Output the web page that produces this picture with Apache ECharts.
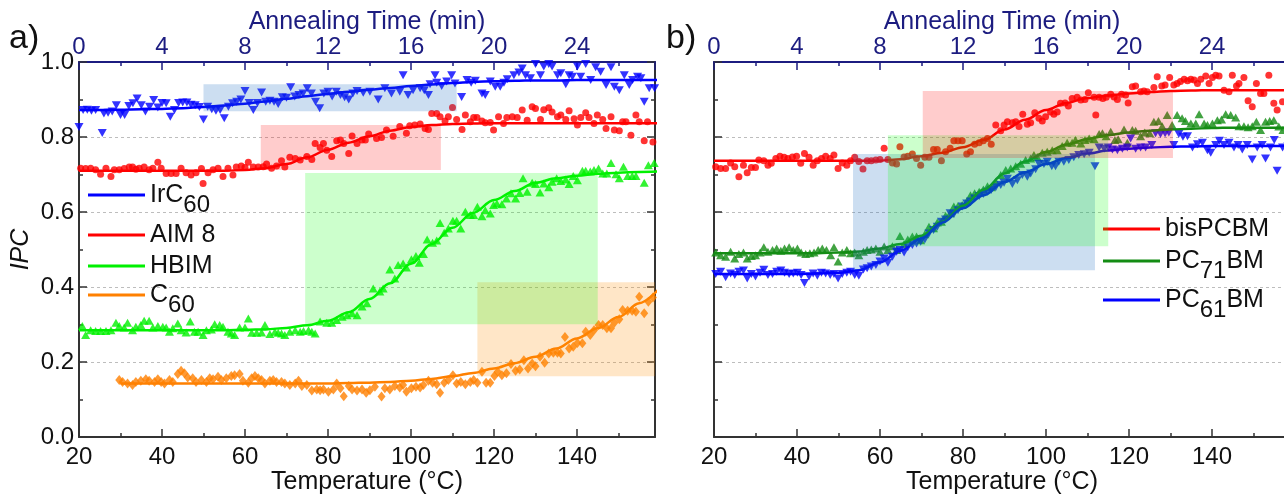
<!DOCTYPE html>
<html>
<head>
<meta charset="utf-8">
<script src="https://cdn.jsdelivr.net/npm/echarts@6/dist/echarts.min.js"></script>
<style>
html,body{margin:0;padding:0;background:#fff;}
#chart{width:1284px;height:496px;}
</style>
</head>
<body>
<div id="chart"></div>
<script>
// ---------- axes ----------
const RAMP = 5;                       // heating ramp, °C per minute
const TEMP_MIN = 20, TEMP_MAX = 158.8;
const tempTicks = [20, 40, 60, 80, 100, 120, 140];
const timeTicks = [0, 4, 8, 12, 16, 20, 24];
const ipcTicks = [0.0, 0.2, 0.4, 0.6, 0.8, 1.0];

// ---------- panel a: measured IPC (temperature °C, IPC) ----------
const irc60Pts = [[20,0.827],[21,0.872],[22,0.873],[23,0.870],[24,0.872],[25.6,0.811],[26,0.863],[27,0.865],[28,0.868],[29,0.885],[30,0.859],[31,0.859],[32,0.883],[33,0.890],[34,0.903],[35,0.885],[36,0.868],[37,0.881],[38,0.899],[39,0.879],[40,0.891],[41,0.890],[42,0.854],[43,0.872],[44,0.891],[45,0.892],[46,0.892],[47,0.886],[48,0.885],[49,0.880],[50,0.847],[51,0.881],[52,0.874],[53,0.870],[54,0.872],[55,0.850],[56,0.881],[57,0.890],[58,0.894],[59,0.900],[60,0.923],[61,0.891],[62,0.872],[63,0.891],[64,0.919],[65,0.894],[66,0.897],[67,0.894],[68,0.888],[69,0.906],[70,0.905],[71,0.933],[72,0.908],[73,0.912],[74,0.916],[75,0.930],[76,0.916],[77,0.894],[78,0.877],[79,0.916],[80,0.921],[81,0.908],[82,0.921],[83,0.912],[84,0.906],[85,0.900],[86,0.916],[87,0.923],[88.5,0.918],
  [90.1,0.921],[92.1,0.900],[93.7,0.930],[95.3,0.916],[97.3,0.921],[98.1,0.965],[99.3,0.912],[100.5,0.925],[102.2,0.930],[103.2,0.925],[104.2,0.912],[104.6,0.941],[105.8,0.965],[106.2,0.945],[107.4,0.936],[108.6,0.948],[109.8,0.965],[110.6,0.943],[112.2,0.907],[113.5,0.952],[114.5,0.945],[115.5,0.950],[117.1,0.916],[117.9,0.912],[119.1,0.948],[120.3,0.934],[121.5,0.934],[122.4,0.945],[123.2,0.954],[124.8,0.965],[126.0,0.972],[126.8,0.983],[127.6,0.965],[128.8,0.957],[130.0,0.995],[131.2,0.965],[132.0,0.988],[133.2,0.995],[134.0,0.988],[135.3,0.965],[136.1,0.970],[137.3,0.941],[138.1,0.965],[138.9,0.961],[140.1,0.988],[140.9,0.961],[142.1,0.995],[143.3,0.952],[144.5,0.986],[145.7,0.974],[147.0,0.939],[148.2,0.986],[149.0,0.934],[150.2,0.925],[151.4,0.965],[152.6,0.939],[153.4,0.952],[154.6,0.961],[155.4,0.957],[156.2,0.894],[157.4,0.930],[158.7,0.930]];

const aim8Pts = [[20.4,0.717],[21.6,0.716],[22.8,0.717],[24.0,0.713],[25.2,0.701],[26.5,0.717],[27.7,0.695],[28.5,0.713],[29.7,0.713],[30.9,0.716],[32.1,0.720],[32.9,0.720],[33.7,0.714],[34.5,0.717],[35.7,0.720],[36.9,0.713],[37.8,0.717],[39.0,0.733],[39.8,0.717],[41.0,0.703],[42.2,0.703],[43.4,0.703],[44.6,0.717],[45.8,0.705],[47.0,0.699],[48.2,0.705],[49.5,0.716],[49.9,0.676],[51.1,0.705],[52.3,0.713],[53.5,0.717],[54.7,0.695],[55.9,0.717],[57.1,0.699],[57.9,0.720],[59.1,0.723],[60.0,0.719],[60.8,0.733],[62.0,0.720],[63.2,0.720],[64.4,0.721],[65.2,0.728],[66.4,0.717],[67.6,0.723],[68.8,0.737],[69.6,0.720],[70.8,0.746],[72.1,0.743],[73.3,0.739],[74.9,0.748],[76.1,0.740],[76.9,0.783],[78.1,0.772],[78.9,0.783],[79.7,0.765],[80.9,0.748],[82.1,0.790],[83.0,0.792],[83.8,0.783],[85.0,0.756],[85.8,0.803],[87.0,0.783],[88.2,0.792],[89.0,0.792],[89.8,0.808],
  [91.7,0.796],[92.9,0.799],[94.1,0.819],[95.7,0.802],[97.3,0.828],[98.9,0.810],[99.7,0.830],[100.9,0.832],[102.2,0.835],[103.4,0.823],[104.2,0.820],[105.0,0.863],[106.2,0.863],[107.0,0.854],[108.2,0.843],[109.0,0.854],[110.0,0.879],[111.0,0.847],[112.3,0.820],[113.1,0.859],[114.3,0.841],[115.1,0.852],[115.9,0.852],[117.1,0.843],[117.9,0.838],[119.1,0.839],[119.9,0.819],[121.1,0.854],[122.3,0.836],[123.1,0.852],[124.4,0.854],[125.6,0.852],[126.8,0.872],[128.0,0.845],[129.2,0.881],[130.0,0.876],[131.2,0.847],[132.0,0.873],[133.2,0.878],[134.0,0.867],[135.3,0.854],[136.1,0.859],[137.3,0.847],[138.1,0.870],[139.3,0.849],[140.1,0.832],[140.9,0.852],[142.1,0.865],[142.9,0.852],[144.1,0.836],[144.9,0.859],[146.2,0.847],[147.0,0.823],[148.2,0.854],[149.0,0.819],[150.2,0.817],[151.0,0.841],[151.8,0.841],[153.0,0.805],[154.2,0.859],[155.0,0.841],[156.2,0.790],[157.0,0.841],[158.3,0.787]];

const hbimPts = [[20.8,0.296],[21.6,0.272],[22.8,0.285],[24.0,0.283],[25.2,0.283],[26.5,0.283],[27.7,0.285],[28.9,0.305],[29.7,0.296],[30.9,0.292],[31.7,0.305],[32.9,0.285],[33.7,0.294],[34.9,0.299],[35.7,0.310],[36.9,0.310],[37.8,0.292],[39.0,0.296],[40.2,0.294],[41.0,0.292],[41.8,0.281],[42.6,0.290],[43.8,0.303],[44.6,0.285],[45.8,0.279],[46.8,0.308],[47.8,0.281],[48.7,0.281],[49.9,0.272],[50.7,0.285],[51.9,0.287],[52.7,0.301],[53.9,0.299],[54.7,0.294],[55.9,0.281],[56.7,0.276],[57.5,0.272],[58.7,0.292],[60.0,0.292],[60.8,0.316],[61.6,0.278],[62.8,0.278],[64.0,0.279],[64.8,0.299],[66.0,0.275],[67.2,0.281],[68.0,0.278],[68.8,0.276],[69.6,0.272],[70.8,0.281],[72.1,0.285],[73.3,0.281],[74.1,0.283],[75.3,0.285],[76.1,0.281],[76.9,0.276],[78.1,0.308],[79.7,0.305],[80.9,0.305],[82.1,0.312],[83.4,0.321],[84.6,0.325],[85.8,0.330],[87.0,0.325],[88.2,0.348],[89.4,0.357],
  [90.9,0.396],[92.5,0.388],[93.3,0.396],[94.9,0.447],[96.1,0.423],[96.9,0.459],[98.1,0.463],[98.9,0.452],[100.1,0.474],[101.2,0.483],[102.0,0.465],[103.0,0.488],[103.9,0.527],[105.2,0.518],[106.2,0.524],[107.0,0.571],[108.0,0.545],[109.0,0.556],[110.1,0.577],[111.0,0.577],[112.0,0.556],[113.1,0.601],[114.3,0.592],[115.1,0.592],[116.0,0.614],[117.1,0.589],[117.9,0.605],[119.1,0.596],[119.9,0.619],[120.7,0.623],[121.9,0.621],[123.0,0.636],[124.1,0.650],[125.2,0.636],[126.2,0.651],[127.0,0.690],[128.0,0.654],[129.2,0.678],[130.0,0.675],[131.1,0.652],[132.0,0.676],[133.2,0.666],[134.0,0.681],[135.1,0.690],[136.1,0.683],[137.3,0.687],[138.1,0.675],[139.1,0.696],[140.1,0.685],[141.3,0.710],[142.1,0.710],[143.2,0.708],[144.1,0.712],[145.2,0.716],[146.2,0.703],[147.2,0.703],[148.2,0.731],[149.4,0.701],[150.2,0.690],[151.2,0.721],[152.2,0.696],[153.3,0.696],[154.2,0.696],[156.2,0.678],[157.2,0.725],[158.6,0.731]];

const c60Pts = [[29.7,0.152],[30.5,0.147],[31.7,0.143],[32.9,0.139],[33.7,0.147],[34.9,0.150],[36.1,0.154],[36.9,0.150],[38.2,0.147],[39.0,0.154],[39.8,0.147],[40.6,0.143],[41.8,0.152],[42.6,0.147],[43.8,0.168],[44.6,0.177],[45.4,0.170],[46.2,0.159],[47.4,0.157],[48.2,0.147],[49.5,0.152],[50.7,0.147],[51.5,0.157],[52.3,0.154],[53.5,0.161],[54.3,0.152],[55.5,0.157],[56.7,0.163],[57.5,0.165],[58.7,0.168],[59.5,0.150],[60.8,0.145],[61.6,0.157],[62.4,0.163],[63.2,0.157],[64.0,0.152],[64.8,0.143],[66.0,0.150],[66.8,0.152],[67.6,0.147],[68.8,0.147],[69.6,0.143],[70.8,0.139],[72.1,0.143],[72.9,0.150],[73.7,0.136],[74.9,0.139],[76.1,0.124],[77.3,0.127],[78.1,0.125],[78.9,0.127],[80.1,0.121],[81.3,0.127],[82.1,0.143],[83.0,0.130],[83.8,0.109],[85.0,0.136],[85.8,0.127],[87.0,0.124],[88.2,0.127],[89.2,0.118],
  [90.1,0.125],[91.3,0.134],[92.9,0.108],[93.7,0.130],[94.9,0.127],[96.1,0.136],[97.3,0.132],[98.1,0.139],[98.9,0.121],[100.1,0.130],[101.2,0.134],[102.2,0.132],[103.0,0.139],[104.2,0.150],[105.2,0.145],[106.2,0.141],[107.0,0.118],[108.0,0.145],[109.0,0.152],[110.1,0.165],[111.0,0.143],[112.0,0.147],[113.1,0.141],[114.3,0.147],[115.1,0.152],[116.0,0.145],[117.1,0.174],[118.1,0.145],[119.1,0.145],[120.1,0.163],[120.9,0.174],[121.9,0.165],[123.0,0.170],[124.1,0.195],[125.2,0.177],[126.2,0.180],[127.2,0.205],[128.2,0.183],[129.2,0.196],[130.0,0.189],[131.1,0.214],[132.2,0.198],[133.2,0.223],[134.3,0.225],[135.3,0.225],[136.1,0.223],[137.1,0.267],[138.1,0.236],[139.1,0.241],[140.1,0.251],[141.3,0.250],[142.1,0.281],[143.2,0.272],[144.1,0.285],[145.2,0.299],[146.2,0.299],[147.2,0.290],[148.2,0.290],[149.0,0.305],[150.2,0.314],[151.0,0.339],[152.2,0.337],[153.3,0.337],[154.2,0.334],[155.0,0.374],[156.2,0.330],[157.2,0.361],[158.3,0.372]];

// ---------- panel b: measured IPC ----------
const bisPts = [[20.4,0.721],[21.6,0.716],[22.8,0.716],[24.0,0.731],[25.0,0.721],[26.0,0.694],[27.1,0.725],[28.0,0.705],[29.0,0.719],[30.0,0.719],[30.8,0.739],[32.0,0.737],[33.0,0.725],[33.8,0.730],[34.9,0.743],[35.9,0.749],[36.9,0.746],[37.8,0.743],[38.9,0.747],[39.9,0.749],[40.9,0.730],[41.8,0.756],[42.9,0.746],[43.9,0.725],[44.9,0.737],[45.9,0.743],[46.9,0.749],[48.0,0.743],[48.9,0.752],[49.9,0.716],[50.9,0.731],[52.0,0.725],[52.9,0.737],[53.9,0.746],[54.9,0.735],[55.9,0.715],[56.9,0.737],[57.9,0.737],[59.0,0.739],[60.0,0.740],[61.0,0.770],[61.9,0.740],[63.0,0.731],[64.0,0.728],[64.8,0.774],[65.8,0.747],[66.7,0.749],[67.8,0.755],[68.8,0.743],[69.8,0.725],[70.8,0.746],[71.8,0.746],[72.9,0.767],[73.8,0.767],[74.8,0.737],[75.8,0.761],[76.9,0.770],[77.8,0.790],[78.8,0.790],[79.8,0.790],[80.9,0.755],[81.8,0.761],[82.8,0.781],[83.9,0.785],[84.9,0.790],[85.9,0.796],[86.8,0.781],[87.9,0.832],
  [89.1,0.817],[89.9,0.832],[90.7,0.841],[91.9,0.838],[92.7,0.841],[93.5,0.828],[94.4,0.861],[95.5,0.834],[96.3,0.838],[97.3,0.865],[98.3,0.850],[99.1,0.843],[99.9,0.854],[101.1,0.867],[101.9,0.861],[102.7,0.867],[103.5,0.890],[104.6,0.891],[105.4,0.883],[106.3,0.903],[107.5,0.906],[108.4,0.899],[109.4,0.900],[110.2,0.918],[111.6,0.906],[112.0,0.859],[112.8,0.906],[113.7,0.903],[114.5,0.906],[115.6,0.914],[116.4,0.907],[117.2,0.900],[118.2,0.914],[119.2,0.912],[119.8,0.891],[120.8,0.934],[121.6,0.936],[122.8,0.921],[123.6,0.923],[124.4,0.921],[126.0,0.932],[126.8,0.961],[127.9,0.936],[128.7,0.939],[129.8,0.959],[130.8,0.939],[131.6,0.943],[132.4,0.948],[133.3,0.954],[134.1,0.950],[134.9,0.954],[135.7,0.952],[136.5,0.943],[137.3,0.954],[138.5,0.963],[139.3,0.943],[140.1,0.959],[140.9,0.965],[141.7,0.963],[142.9,0.925],[144.1,0.921],[144.9,0.965],[145.9,0.936],[146.5,0.943],[147.7,0.959],[148.7,0.897],[149.7,0.881],[150.7,0.943],[151.7,0.916],[152.5,0.916],[153.7,0.965],[154.9,0.890],[155.7,0.872],[157.0,0.894],[158.2,0.928]];

const pc71Pts = [[20.4,0.492],[21.6,0.485],[22.8,0.481],[24.0,0.494],[25.0,0.476],[26.0,0.488],[27.1,0.492],[28.0,0.476],[29.0,0.483],[30.0,0.485],[31.1,0.492],[32.0,0.506],[33.0,0.494],[34.1,0.499],[35.1,0.503],[36.1,0.497],[37.0,0.503],[38.1,0.506],[39.1,0.499],[40.1,0.503],[41.0,0.492],[42.1,0.488],[43.1,0.490],[44.1,0.492],[45.1,0.499],[46.1,0.503],[47.1,0.499],[48.1,0.485],[48.9,0.506],[49.9,0.468],[50.9,0.492],[52.0,0.499],[52.9,0.490],[53.9,0.492],[54.9,0.485],[56.0,0.494],[56.9,0.499],[57.9,0.500],[59.0,0.503],[60.0,0.494],[61.0,0.508],[61.9,0.499],[63.0,0.509],[64.0,0.499],[64.8,0.536],[65.8,0.515],[66.7,0.527],[67.8,0.535],[68.8,0.535],[69.8,0.525],[70.8,0.541],[71.8,0.561],[72.9,0.557],[73.8,0.572],[74.8,0.574],[75.8,0.590],[76.9,0.597],[77.8,0.615],[78.8,0.616],[79.8,0.619],[80.9,0.628],[81.8,0.645],[82.8,0.650],[83.9,0.654],[84.9,0.660],[85.9,0.669],[86.8,0.666],[87.9,0.681],
  [89.1,0.699],[90.3,0.712],[91.5,0.716],[92.7,0.722],[93.9,0.729],[95.1,0.739],[96.3,0.743],[97.1,0.752],[97.9,0.747],[99.1,0.758],[100.3,0.761],[101.5,0.765],[102.7,0.765],[103.9,0.776],[105.1,0.785],[106.3,0.785],[107.1,0.792],[108.4,0.783],[109.4,0.792],[110.4,0.796],[111.6,0.794],[112.8,0.808],[113.6,0.810],[114.5,0.802],[115.6,0.814],[116.6,0.792],[117.4,0.794],[118.8,0.820],[119.6,0.785],[120.8,0.819],[121.6,0.817],[122.8,0.802],[123.8,0.812],[125.0,0.810],[126.0,0.841],[127.1,0.843],[128.0,0.829],[129.2,0.859],[130.4,0.832],[131.6,0.859],[132.8,0.850],[133.6,0.843],[134.9,0.836],[136.1,0.836],[136.9,0.861],[138.1,0.836],[138.9,0.832],[140.1,0.836],[141.3,0.845],[142.3,0.847],[143.3,0.861],[144.5,0.859],[145.7,0.852],[146.5,0.829],[147.7,0.829],[148.7,0.826],[149.7,0.829],[150.7,0.841],[151.7,0.819],[152.9,0.841],[153.9,0.843],[154.9,0.845],[156.1,0.828],[157.1,0.819],[158.3,0.830]];

const pc61Pts = [[20.4,0.435],[21.6,0.441],[22.8,0.426],[24.0,0.436],[25.0,0.432],[26.0,0.441],[27.1,0.444],[28.0,0.423],[29.0,0.435],[30.0,0.428],[31.1,0.438],[32.0,0.446],[33.0,0.432],[34.1,0.435],[35.1,0.441],[36.1,0.444],[37.0,0.438],[38.1,0.435],[39.1,0.436],[40.1,0.438],[41.0,0.432],[41.8,0.411],[42.9,0.428],[43.9,0.436],[44.9,0.430],[45.9,0.438],[46.9,0.436],[48.0,0.432],[48.9,0.435],[49.9,0.423],[50.9,0.435],[52.0,0.438],[52.9,0.441],[53.9,0.432],[54.9,0.430],[56.0,0.447],[56.9,0.450],[57.9,0.455],[59.0,0.459],[60.0,0.468],[61.0,0.476],[61.9,0.465],[63.0,0.481],[64.0,0.494],[64.8,0.499],[65.8,0.492],[66.7,0.506],[67.8,0.512],[68.8,0.516],[69.8,0.521],[70.8,0.527],[71.8,0.543],[72.9,0.552],[73.8,0.561],[74.8,0.574],[75.8,0.580],[76.9,0.597],[77.8,0.595],[78.8,0.605],[79.8,0.615],[80.9,0.623],[81.8,0.628],[82.8,0.636],[83.9,0.643],[84.9,0.648],[85.9,0.654],[86.8,0.659],[87.9,0.666],
  [89.1,0.672],[89.9,0.678],[90.7,0.689],[91.9,0.675],[93.1,0.685],[94.3,0.699],[95.5,0.694],[96.3,0.703],[97.5,0.714],[98.3,0.729],[99.5,0.728],[100.3,0.734],[101.4,0.722],[102.3,0.722],[103.1,0.734],[104.3,0.734],[105.5,0.739],[106.7,0.746],[107.9,0.752],[109.2,0.754],[110.4,0.758],[111.8,0.722],[112.8,0.772],[114.0,0.769],[115.0,0.772],[116.0,0.767],[117.2,0.765],[118.4,0.769],[119.6,0.772],[120.4,0.796],[121.6,0.769],[122.8,0.772],[124.0,0.772],[125.5,0.779],[126.4,0.810],[127.6,0.808],[128.7,0.810],[129.6,0.812],[130.8,0.779],[132.0,0.808],[133.0,0.801],[134.1,0.802],[135.3,0.772],[136.5,0.781],[137.7,0.785],[138.9,0.765],[139.7,0.758],[140.9,0.779],[141.8,0.790],[142.9,0.779],[144.1,0.785],[145.3,0.772],[146.3,0.779],[147.3,0.767],[148.5,0.779],[149.7,0.740],[150.9,0.772],[152.1,0.779],[152.9,0.743],[154.1,0.772],[155.0,0.792],[155.7,0.710],[157.0,0.772],[158.3,0.776]];

// ---------- fitted curves, sampled every 5 °C ----------
const fitT = [20,25,30,35,40,45,50,55,60,65,70,75,80,85,90,95,100,105,110,115,120,125,130,135,140,145,150,155,160];
const irc60Fit = [0.872,0.872,0.873,0.874,0.875,0.877,0.880,0.884,0.889,0.895,0.902,0.909,0.915,0.921,0.926,0.931,0.936,0.940,0.944,0.947,0.949,0.950,0.951,0.951,0.952,0.952,0.952,0.952,0.952];
const aim8Fit = [0.710,0.710,0.710,0.710,0.710,0.710,0.710,0.710,0.712,0.717,0.728,0.746,0.766,0.785,0.802,0.817,0.827,0.832,0.835,0.836,0.837,0.837,0.837,0.837,0.837,0.837,0.837,0.837,0.837];
const hbimFit = [0.285,0.285,0.285,0.285,0.285,0.285,0.285,0.285,0.286,0.287,0.291,0.298,0.310,0.333,0.368,0.410,0.462,0.515,0.558,0.598,0.632,0.656,0.678,0.690,0.697,0.702,0.705,0.707,0.708];
const c60Fit = [null,null,0.143,0.143,0.143,0.143,0.143,0.143,0.143,0.143,0.143,0.143,0.143,0.144,0.145,0.147,0.150,0.155,0.162,0.171,0.183,0.197,0.214,0.236,0.263,0.290,0.320,0.357,0.398];
const bisFit = [0.737,0.737,0.737,0.737,0.737,0.737,0.737,0.737,0.737,0.741,0.749,0.758,0.773,0.792,0.820,0.846,0.872,0.891,0.904,0.911,0.916,0.920,0.923,0.924,0.925,0.925,0.925,0.925,0.925];
const pc71Fit = [0.490,0.490,0.490,0.490,0.490,0.490,0.492,0.495,0.503,0.515,0.537,0.574,0.617,0.660,0.703,0.735,0.760,0.780,0.795,0.805,0.812,0.817,0.820,0.822,0.824,0.825,0.825,0.825,0.825];
const pc61Fit = [0.435,0.435,0.435,0.435,0.435,0.436,0.438,0.445,0.466,0.497,0.530,0.572,0.610,0.645,0.680,0.706,0.728,0.744,0.756,0.764,0.769,0.772,0.774,0.775,0.776,0.776,0.776,0.776,0.776];

// ---------- transition windows: [T start, T end] and [IPC low, IPC high] ----------
const winA = {
  IrC60: {t: [50, 111],    v: [0.869, 0.941]},
  AIM8:  {t: [63.8, 107.2], v: [0.712, 0.832]},
  C60:   {t: [116, 158.8], v: [0.162, 0.413]},
  HBIM:  {t: [74.5, 145],  v: [0.301, 0.704]}
};
const winB = {
  PC61BM:  {t: [53.5, 111.8], v: [0.445, 0.755]},
  PC71BM:  {t: [61.9, 115.0], v: [0.509, 0.805]},
  bisPCBM: {t: [70.3, 130.6], v: [0.744, 0.923]}
};

// ---------- styling ----------
const FONT = '"Liberation Sans", Arial, Helvetica, sans-serif';
const NAVY = '#1c1c80';
const AX = '#333333';
const FS = 24;        // tick labels
const FT = 25;        // axis titles

const near = (arr, v) => arr.some(t => Math.abs(t - v) < 1e-6);

function tempAxis(gridIndex) {
  return {
    type: 'value', gridIndex, position: 'bottom',
    min: TEMP_MIN, max: TEMP_MAX, interval: tempTicks[1] - tempTicks[0],
    name: 'Temperature (°C)', nameLocation: 'middle', nameGap: 33, nameMoveOverlap: false,
    nameTextStyle: {fontSize: FT, color: '#111', fontFamily: FONT},
    axisLine: {show: true, onZero: false, lineStyle: {color: AX, width: 2}},
    axisTick: {show: true, inside: true, length: 8, lineStyle: {color: AX, width: 1.5}},
    minorTick: {show: true, splitNumber: 2, length: 4, lineStyle: {color: AX, width: 1.5}},
    axisLabel: {fontSize: FS, color: '#111', fontFamily: FONT, margin: 8, showMaxLabel: false,
      formatter: v => near(tempTicks, v) ? String(Math.round(v)) : ''},
    splitLine: {show: false}
  };
}
function timeAxis(gridIndex) {
  return {
    type: 'value', gridIndex, position: 'top',
    min: 0, max: (TEMP_MAX - TEMP_MIN) / RAMP, interval: timeTicks[1] - timeTicks[0],
    name: 'Annealing Time (min)', nameLocation: 'middle', nameGap: 27, nameMoveOverlap: false,
    nameTextStyle: {fontSize: FT, color: NAVY, fontFamily: FONT},
    axisLine: {show: true, onZero: false, lineStyle: {color: NAVY, width: 2}},
    axisTick: {show: true, inside: true, length: 8, lineStyle: {color: NAVY, width: 1.5}},
    minorTick: {show: true, splitNumber: 2, length: 4, lineStyle: {color: NAVY, width: 1.5}},
    axisLabel: {fontSize: FS, color: NAVY, fontFamily: FONT, margin: 3, showMaxLabel: false,
      formatter: v => near(timeTicks, v) ? String(Math.round(v)) : ''},
    splitLine: {show: false}
  };
}
function ipcAxis(gridIndex, position, withLabels, withGrid) {
  return {
    type: 'value', gridIndex, position,
    min: ipcTicks[0], max: ipcTicks[ipcTicks.length - 1], interval: ipcTicks[1] - ipcTicks[0],
    name: withLabels ? 'IPC' : '', nameLocation: 'middle', nameGap: 45, nameMoveOverlap: false,
    nameTextStyle: {fontSize: 25, color: '#111', fontFamily: FONT, fontStyle: 'italic'},
    axisLine: {show: true, onZero: false, lineStyle: {color: AX, width: 2}},
    axisTick: {show: true, inside: true, length: 8, lineStyle: {color: AX, width: 1.5}},
    minorTick: {show: true, splitNumber: 2, length: 4, lineStyle: {color: AX, width: 1.5}},
    axisLabel: {show: withLabels, fontSize: FS, color: '#111', fontFamily: FONT, margin: 5,
      formatter: v => near(ipcTicks, v) ? v.toFixed(1) : ''},
    splitLine: {show: withGrid, lineStyle: {color: '#bdbdbd', width: 1, type: [3, 3]}}
  };
}

function points(name, data, xi, yi, color, symbol, size, rotate) {
  return {
    type: 'scatter', name, data, xAxisIndex: xi, yAxisIndex: yi,
    symbol, symbolSize: size, symbolRotate: rotate || 0,
    itemStyle: {color}, z: 2, silent: true
  };
}
function fit(name, vals, xi, yi, color) {
  return {
    type: 'line', name, data: fitT.map((t, i) => [t, vals[i]]),
    xAxisIndex: xi, yAxisIndex: yi, color,
    smooth: 0.35, smoothMonotone: 'x', showSymbol: false, symbol: 'none',
    connectNulls: false, lineStyle: {color, width: 2.5}, z: 3, silent: true
  };
}
function windows(entries, xi, yi) {
  return {
    type: 'scatter', name: 'windows', data: [], xAxisIndex: xi, yAxisIndex: yi, silent: true,
    markArea: {
      silent: true, z: 10,
      data: entries.map(([w, color]) => [
        {xAxis: w.t[0], yAxis: w.v[0], itemStyle: {color}},
        {xAxis: w.t[1], yAxis: w.v[1]}
      ])
    }
  };
}

const legendLabel = {
  'IrC60': 'IrC{s|60}', 'AIM 8': 'AIM 8', 'HBIM': 'HBIM', 'C60': 'C{s|60}',
  'bisPCBM': 'bisPCBM', 'PC71BM': 'PC{s|71}BM', 'PC61BM': 'PC{s|61}BM'
};
const LEG_LH = 46;
function legendEntry(name, left, centerY) {
  return {
    data: [name], left, top: centerY - LEG_LH / 2, padding: 0,
    orient: 'vertical', icon: 'rect', itemWidth: 57, itemHeight: 3,
    selectedMode: false,
    formatter: n => legendLabel[n],
    textStyle: {
      fontSize: 25, color: '#111', fontFamily: FONT, lineHeight: LEG_LH,
      rich: {s: {fontSize: 24, color: '#111', fontFamily: FONT, lineHeight: 25, padding: [20, 0, 0, 0]}}
    }
  };
}

const BLUE = '#0000ff', RED = '#ff0000', LIME = '#00f000', ORANGE = '#ff8000', DGREEN = '#138c13';
const wBlue = 'rgba(25,105,190,0.22)', wRed = 'rgba(255,0,0,0.2)', wGreen = 'rgba(0,255,0,0.2)', wOrange = 'rgba(255,140,0,0.22)';

const option = {
  animation: false,
  backgroundColor: '#ffffff',
  textStyle: {fontFamily: FONT},
  title: [
    {text: 'a)', left: 9, top: 22, padding: 0, textStyle: {fontSize: 34, fontWeight: 'normal', color: '#111', fontFamily: FONT}},
    {text: 'b)', left: 666, top: 22, padding: 0, textStyle: {fontSize: 34, fontWeight: 'normal', color: '#111', fontFamily: FONT}}
  ],
  grid: [
    {left: 79, top: 62, width: 576, height: 375, containLabel: false, outerBoundsMode: 'none'},
    {left: 714, top: 62, width: 576, height: 375, containLabel: false, outerBoundsMode: 'none'}
  ],
  xAxis: [tempAxis(0), timeAxis(0), tempAxis(1), timeAxis(1)],
  yAxis: [ipcAxis(0, 'left', true, true), ipcAxis(0, 'right', false, false), ipcAxis(1, 'left', false, true)],
  legend: [
    legendEntry('IrC60', 88, 195),
    legendEntry('AIM 8', 88, 235),
    legendEntry('HBIM', 88, 266),
    legendEntry('C60', 88, 295),
    legendEntry('bisPCBM', 1103, 229),
    legendEntry('PC71BM', 1103, 261),
    legendEntry('PC61BM', 1103, 300)
  ],
  series: [
    // panel a
    points('C60 data', c60Pts, 0, 0, ORANGE, 'diamond', [8, 10]),
    points('HBIM data', hbimPts, 0, 0, LIME, 'triangle', [9, 8]),
    points('AIM 8 data', aim8Pts, 0, 0, RED, 'circle', 7),
    points('IrC60 data', irc60Pts, 0, 0, BLUE, 'triangle', [9, 8], 180),
    fit('C60', c60Fit, 0, 0, ORANGE),
    fit('HBIM', hbimFit, 0, 0, LIME),
    fit('AIM 8', aim8Fit, 0, 0, RED),
    fit('IrC60', irc60Fit, 0, 0, BLUE),
    windows([[winA.IrC60, wBlue], [winA.AIM8, wRed], [winA.C60, wOrange], [winA.HBIM, wGreen]], 0, 0),
    // panel b
    points('bisPCBM data', bisPts, 2, 2, RED, 'circle', 7),
    points('PC71BM data', pc71Pts, 2, 2, DGREEN, 'triangle', [9, 8]),
    points('PC61BM data', pc61Pts, 2, 2, BLUE, 'triangle', [9, 8], 180),
    fit('bisPCBM', bisFit, 2, 2, RED),
    fit('PC71BM', pc71Fit, 2, 2, DGREEN),
    fit('PC61BM', pc61Fit, 2, 2, BLUE),
    windows([[winB.PC61BM, wBlue], [winB.PC71BM, wGreen], [winB.bisPCBM, wRed]], 2, 2)
  ]
};

const chart = echarts.init(document.getElementById('chart'), null, {renderer: 'canvas', width: 1284, height: 496});
chart.setOption(option);
</script>
</body>
</html>
